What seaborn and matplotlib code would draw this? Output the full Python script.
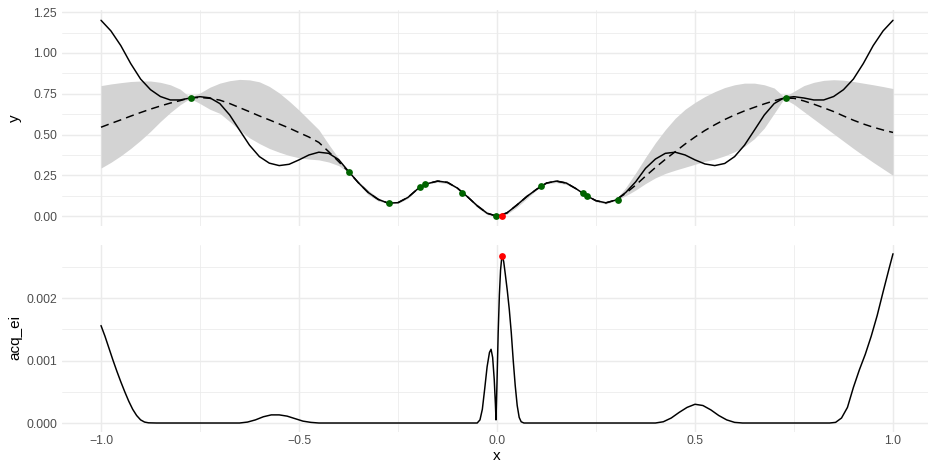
import numpy as np
import pandas as pd
import matplotlib
matplotlib.use("Agg")
import matplotlib.pyplot as plt
from matplotlib.ticker import FixedLocator
import seaborn as sns

# ---- x grid shared by the objective and the surrogate ----
x_grid = [-1.000, -0.975, -0.950, -0.925, -0.900, -0.875, -0.850, -0.825, -0.800, -0.775,
          -0.750, -0.725, -0.700, -0.675, -0.650, -0.625, -0.600, -0.575, -0.550, -0.525,
          -0.500, -0.475, -0.450, -0.425, -0.400, -0.375, -0.350, -0.325, -0.300, -0.275,
          -0.250, -0.225, -0.200, -0.175, -0.150, -0.125, -0.100, -0.075, -0.050, -0.025,
          0.000, 0.025, 0.050, 0.075, 0.100, 0.125, 0.150, 0.175, 0.200, 0.225,
          0.250, 0.275, 0.300, 0.325, 0.350, 0.375, 0.400, 0.425, 0.450, 0.475,
          0.500, 0.525, 0.550, 0.575, 0.600, 0.625, 0.650, 0.675, 0.700, 0.725,
          0.750, 0.775, 0.800, 0.825, 0.850, 0.875, 0.900, 0.925, 0.950, 0.975, 1.000]

true_y = [1.200, 1.135, 1.045, 0.935, 0.840, 0.775, 0.733, 0.712, 0.712, 0.724,
          0.732, 0.725, 0.690, 0.620, 0.527, 0.435, 0.365, 0.325, 0.310, 0.318,
          0.345, 0.375, 0.392, 0.385, 0.347, 0.275, 0.205, 0.145, 0.103, 0.080,
          0.083, 0.115, 0.168, 0.200, 0.215, 0.207, 0.172, 0.120, 0.064, 0.018,
          0.000, 0.020, 0.068, 0.120, 0.165, 0.203, 0.215, 0.203, 0.168, 0.127,
          0.095, 0.082, 0.099, 0.145, 0.210, 0.293, 0.350, 0.385, 0.392, 0.375,
          0.345, 0.320, 0.310, 0.323, 0.365, 0.435, 0.527, 0.620, 0.690, 0.725,
          0.732, 0.724, 0.712, 0.712, 0.733, 0.775, 0.840, 0.935, 1.045, 1.135, 1.200]

gp_mean = [0.545, 0.568, 0.590, 0.613, 0.635, 0.656, 0.675, 0.693, 0.708, 0.725,
           0.727, 0.722, 0.711, 0.690, 0.665, 0.640, 0.614, 0.590, 0.565, 0.540,
           0.512, 0.485, 0.452, 0.395, 0.335, 0.273, 0.205, 0.145, 0.103, 0.080,
           0.083, 0.115, 0.168, 0.200, 0.215, 0.207, 0.172, 0.120, 0.064, 0.018,
           0.000, 0.020, 0.068, 0.120, 0.165, 0.203, 0.215, 0.203, 0.168, 0.127,
           0.095, 0.082, 0.099, 0.140, 0.190, 0.245, 0.298, 0.348, 0.395, 0.442,
           0.485, 0.525, 0.560, 0.592, 0.620, 0.645, 0.667, 0.688, 0.707, 0.724,
           0.722, 0.706, 0.686, 0.664, 0.641, 0.614, 0.588, 0.565, 0.545, 0.528, 0.513]

gp_upper = [0.800, 0.810, 0.818, 0.825, 0.828, 0.828, 0.820, 0.805, 0.778, 0.728,
            0.755, 0.790, 0.815, 0.830, 0.838, 0.835, 0.823, 0.795, 0.755, 0.705,
            0.650, 0.590, 0.530, 0.440, 0.355, 0.276, 0.213, 0.159, 0.113, 0.082,
            0.088, 0.121, 0.170, 0.202, 0.222, 0.216, 0.175, 0.124, 0.074, 0.026,
            0.002, 0.028, 0.082, 0.133, 0.169, 0.207, 0.224, 0.212, 0.172, 0.129,
            0.101, 0.089, 0.101, 0.175, 0.265, 0.360, 0.450, 0.530, 0.600, 0.655,
            0.697, 0.733, 0.763, 0.788, 0.805, 0.815, 0.815, 0.805, 0.785, 0.730,
            0.765, 0.800, 0.820, 0.832, 0.836, 0.833, 0.825, 0.815, 0.805, 0.794, 0.782]

gp_lower = [0.295, 0.330, 0.370, 0.415, 0.465, 0.520, 0.580, 0.635, 0.683, 0.722,
            0.690, 0.655, 0.630, 0.580, 0.527, 0.480, 0.445, 0.415, 0.392, 0.372,
            0.358, 0.350, 0.345, 0.332, 0.310, 0.270, 0.197, 0.131, 0.093, 0.078,
            0.078, 0.109, 0.166, 0.198, 0.208, 0.198, 0.169, 0.116, 0.054, 0.010,
            -0.002, 0.012, 0.054, 0.107, 0.161, 0.199, 0.206, 0.194, 0.164, 0.125,
            0.089, 0.075, 0.097, 0.125, 0.160, 0.200, 0.235, 0.262, 0.282, 0.300,
            0.318, 0.336, 0.350, 0.370, 0.395, 0.428, 0.475, 0.540, 0.630, 0.720,
            0.685, 0.640, 0.595, 0.550, 0.505, 0.460, 0.415, 0.372, 0.330, 0.290, 0.250]

# ---- archive points and proposed candidate ----
obs_x = [-0.773, -0.373, -0.272, -0.194, -0.181, -0.089, -0.003, 0.111, 0.216, 0.228, 0.306, 0.729]
obs_y = [0.725, 0.271, 0.078, 0.178, 0.196, 0.145, 0.002, 0.186, 0.143, 0.122, 0.102, 0.725]
cand_x = [0.013]
cand_y = [0.004]
cand_ei = [0.002666]

# ---- expected improvement ----
ei_x = [-1.0, -0.99, -0.98, -0.97, -0.96, -0.95, -0.94, -0.93, -0.92, -0.91, -0.90, -0.89, -0.88, -0.86,
        -0.65, -0.63, -0.61, -0.59, -0.57, -0.55, -0.53, -0.51, -0.49, -0.47, -0.45,
        -0.06, -0.05, -0.043, -0.037, -0.031, -0.025, -0.019, -0.015, -0.011, -0.007, -0.004, -0.0025,
        0.0, 0.003, 0.006, 0.009, 0.012, 0.014, 0.017, 0.021, 0.026, 0.031, 0.036, 0.041, 0.046,
        0.051, 0.056, 0.061, 0.068,
        0.40, 0.42, 0.44, 0.46, 0.48, 0.50, 0.52, 0.54, 0.56, 0.58, 0.60, 0.62,
        0.84, 0.855, 0.87, 0.885, 0.90, 0.915, 0.93, 0.945, 0.96, 0.975, 0.99, 1.0]
ei_y = [0.00156, 0.00139, 0.00120, 0.00101, 0.00083, 0.00066, 0.00050, 0.00035, 0.00022, 0.00012, 0.00005, 0.000015, 0.000003, 0.0,
        0.0, 0.000015, 0.00005, 0.00010, 0.00013, 0.00013, 0.00011, 0.00007, 0.00003, 0.00001, 0.0,
        0.0, 0.0, 0.00005, 0.00022, 0.00055, 0.00090, 0.00113, 0.00118, 0.00105, 0.00070, 0.00030, 0.00005,
        0.00065, 0.00145, 0.00205, 0.00245, 0.00265, 0.002666, 0.00258, 0.00238, 0.00212, 0.00182, 0.00145, 0.00100, 0.00060,
        0.00028, 0.00009, 0.00002, 0.0,
        0.0, 0.00002, 0.00008, 0.00017, 0.00025, 0.00030, 0.00028, 0.00021, 0.00012, 0.00005, 0.00001, 0.0,
        0.0, 0.00001, 0.00008, 0.00025, 0.00057, 0.00085, 0.00110, 0.00139, 0.00172, 0.00210, 0.00247, 0.00271]

df_top = pd.DataFrame({"x": x_grid, "y": true_y, "mean": gp_mean, "lo": gp_lower, "hi": gp_upper})
df_obs = pd.DataFrame({"x": obs_x, "y": obs_y})
df_cand = pd.DataFrame({"x": cand_x, "y": cand_y, "ei": cand_ei})
df_ei = pd.DataFrame({"x": ei_x, "acq_ei": ei_y})

sns.set_theme(style="white")
plt.rcParams["font.family"] = ["Liberation Sans", "DejaVu Sans"]

W, H = 930, 463
fig = plt.figure(figsize=(W / 100, H / 100), dpi=100)

left_px, right_px = 62, 928
xlim = (-1 - (101 - left_px) / 396.0, 1 + (right_px - 893) / 396.0)

def add_axes(top_px, bottom_px):
    return fig.add_axes([left_px / W, 1 - bottom_px / H, (right_px - left_px) / W, (bottom_px - top_px) / H])

ax1 = add_axes(10, 226)
ax2 = add_axes(245, 431.5)

grid_col = "#EBEBEB"
tick_col = "#4D4D4D"

def style(ax, yt, ytl, yminor, show_x):
    ax.set_facecolor("white")
    for s in ax.spines.values():
        s.set_visible(False)
    ax.set_xlim(*xlim)
    ax.xaxis.set_major_locator(FixedLocator([-1, -0.5, 0, 0.5, 1]))
    ax.xaxis.set_minor_locator(FixedLocator([-0.75, -0.25, 0.25, 0.75]))
    ax.yaxis.set_major_locator(FixedLocator(yt))
    ax.yaxis.set_minor_locator(FixedLocator(yminor))
    ax.set_yticklabels(ytl)
    ax.grid(True, which="major", color=grid_col, linewidth=1.07)
    ax.grid(True, which="minor", color=grid_col, linewidth=0.55)
    ax.set_axisbelow(True)
    ax.tick_params(axis="both", which="both", length=0, labelsize=8.8, labelcolor=tick_col)
    ax.tick_params(axis="y", pad=3.5)
    ax.tick_params(axis="x", pad=2.5)
    if show_x:
        ax.set_xticklabels(["\u22121.0", "\u22120.5", "0.0", "0.5", "1.0"])
    else:
        ax.set_xticklabels([])
    ax.set_xlabel("")
    ax.set_ylabel("")

# top panel
ax1.fill_between(df_top["x"], df_top["lo"], df_top["hi"], color="#D3D3D3", linewidth=0)
sns.lineplot(data=df_top, x="x", y="y", ax=ax1, color="black", linewidth=1.07, estimator=None, sort=False)
sns.lineplot(data=df_top, x="x", y="mean", ax=ax1, color="black", linewidth=1.07, estimator=None, sort=False)
ax1.lines[-1].set_linestyle((0, (5.5, 3.5)))
sns.scatterplot(data=df_obs, x="x", y="y", ax=ax1, color="#006400", s=24, linewidth=0, zorder=5)
sns.scatterplot(data=df_cand, x="x", y="y", ax=ax1, color="#FF0000", s=24, linewidth=0, zorder=6)
ax1.set_ylim(-0.06, 1.263)
style(ax1, [0, 0.25, 0.5, 0.75, 1.0, 1.25], ["0.00", "0.25", "0.50", "0.75", "1.00", "1.25"],
      [0.125, 0.375, 0.625, 0.875, 1.125], False)

# bottom panel
sns.lineplot(data=df_ei, x="x", y="acq_ei", ax=ax2, color="black", linewidth=1.07, estimator=None, sort=False)
sns.scatterplot(data=df_cand, x="x", y="ei", ax=ax2, color="#FF0000", s=24, linewidth=0, zorder=6)
ax2.set_ylim(-0.000136, 0.00285)
style(ax2, [0, 0.001, 0.002], ["0.000", "0.001", "0.002"], [0.0005, 0.0015, 0.0025], True)

fig.text(15 / W, 1 - 118 / H, "y", rotation=90, ha="center", va="center", fontsize=11, color="black")
fig.text(15 / W, 1 - 338 / H, "acq_ei", rotation=90, ha="center", va="center", fontsize=11, color="black")
fig.text(497 / W, 1 - 456 / H, "x", ha="center", va="center", fontsize=11, color="black")

fig.savefig("out.png", dpi=100, facecolor="white")
